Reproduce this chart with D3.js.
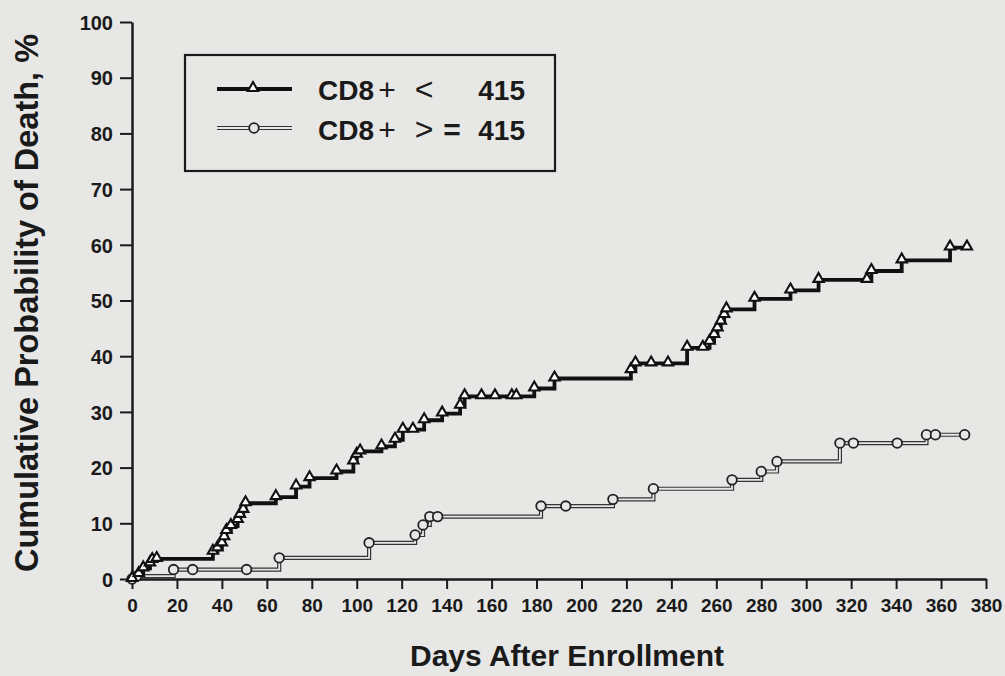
<!DOCTYPE html>
<html>
<head>
<meta charset="utf-8">
<script src="https://cdn.jsdelivr.net/npm/d3@7"></script>
<style>
  body { margin: 0; background: #e7e7e5; }
  svg { display: block; font-family: "Liberation Sans", Arial, sans-serif; }
</style>
</head>
<body>
<div id="chart"></div>
<script>
// CD8+ < 415 group (triangles)
var lowDays = [0, 3, 5, 8, 9, 11, 36, 38, 40, 41, 42, 44, 47, 48, 49.5, 50.5,
  64, 73, 79, 91, 98.5, 100, 101.5, 111, 117, 120.5, 125, 130, 138, 146, 148,
  155.5, 161.5, 169, 171, 179, 188, 222, 224, 231, 238.5, 247, 254, 257, 259,
  260.5, 262, 263.5, 264.5, 277, 293, 305.5, 327, 329, 342.5, 364, 371.5];
var lowPct = [0, 0.9, 1.9, 2.8, 3.4, 3.6, 4.9, 5.5, 6.4, 7.5, 8.6, 9.5, 10.6, 11.5, 12.4, 13.6,
  14.7, 16.6, 18.1, 19.3, 21.1, 22.3, 22.9, 23.8, 25.0, 26.8, 26.8, 28.5, 29.7, 31.1, 32.8,
  32.8, 32.8, 32.8, 32.8, 34.2, 36.0, 37.5, 38.7, 38.7, 38.7, 41.5, 41.5, 42.6, 43.8,
  45.0, 46.2, 47.4, 48.4, 50.3, 51.8, 53.7, 53.7, 55.3, 57.2, 59.5, 59.5];

// CD8+ >= 415 group (circles)
var highDays = [0, 2, 18.5, 27, 51, 65.5, 105.5, 126, 129.5, 132.5, 136, 182, 193,
  214, 232, 267, 280, 287, 315, 321, 340.5, 353.5, 357.5, 370.5];
var highPct = [0, 0.5, 1.7, 1.7, 1.7, 3.8, 6.5, 7.9, 9.7, 11.2, 11.2, 13.1, 13.1,
  14.3, 16.2, 17.8, 19.3, 21.1, 24.4, 24.4, 24.4, 25.9, 25.9, 25.9];

var xTicks = d3.range(0, 381, 20);
var yTicks = d3.range(0, 101, 10);

var width = 1005, height = 676;
var bg = '#e7e7e5';

var svg = d3.select('#chart').append('svg')
    .attr('width', width)
    .attr('height', height);

svg.append('rect').attr('width', width).attr('height', height).attr('fill', bg);

var x = d3.scaleLinear().domain([0, 380]).range([132, 986]);
var y = d3.scaleLinear().domain([0, 100]).range([579, 22]);

var low = lowDays.map(function(d, i) { return [d, lowPct[i]]; });
var high = highDays.map(function(d, i) { return [d, highPct[i]]; });

var line = d3.line()
    .x(function(d) { return x(d[0]); })
    .y(function(d) { return y(d[1]); })
    .curve(d3.curveStepAfter);

// axes
var yAxis = svg.append('g')
    .attr('transform', 'translate(' + x(0) + ',0)')
    .call(d3.axisLeft(y).tickValues(yTicks).tickSize(12).tickPadding(7).tickSizeOuter(0));
var xAxis = svg.append('g')
    .attr('transform', 'translate(0,' + y(0) + ')')
    .call(d3.axisBottom(x).tickValues(xTicks).tickSize(10).tickPadding(10).tickSizeOuter(0));

[xAxis, yAxis].forEach(function(g) {
  g.select('.domain').attr('stroke', '#1a1a1a').attr('stroke-width', 2.5);
  g.selectAll('.tick line').attr('stroke', '#1a1a1a').attr('stroke-width', 2);
  g.selectAll('.tick text')
      .attr('fill', '#1a1a1a')
      .style('font-weight', 'bold')
      .style('font-family', '"Liberation Sans", Arial, sans-serif');
});
yAxis.selectAll('.tick text').style('font-size', '20px').attr('dy', '0.36em');
xAxis.selectAll('.tick text').style('font-size', '19px');

// circle group: double line
svg.append('path').datum(high)
    .attr('d', line)
    .attr('fill', 'none')
    .attr('stroke', '#333')
    .attr('stroke-width', 4.2);
svg.append('path').datum(high)
    .attr('d', line)
    .attr('fill', 'none')
    .attr('stroke', bg)
    .attr('stroke-width', 1.8);

// triangle group: heavy line
svg.append('path').datum(low)
    .attr('d', line)
    .attr('fill', 'none')
    .attr('stroke', '#111')
    .attr('stroke-width', 3.8);

var tri = d3.symbol().type(d3.symbolTriangle).size(46);

svg.selectAll('.pt-high')
    .data(high)
  .enter().append('circle')
    .attr('class', 'pt-high')
    .attr('cx', function(d) { return x(d[0]); })
    .attr('cy', function(d) { return y(d[1]); })
    .attr('r', 4.8)
    .attr('fill', bg)
    .attr('stroke', '#222')
    .attr('stroke-width', 1.8);

svg.selectAll('.pt-low')
    .data(low)
  .enter().append('path')
    .attr('class', 'pt-low')
    .attr('d', tri)
    .attr('transform', function(d) { return 'translate(' + x(d[0]) + ',' + (y(d[1]) - 1) + ')'; })
    .attr('fill', '#fff')
    .attr('stroke', '#111')
    .attr('stroke-width', 2.1);

// legend
var lg = svg.append('g');
lg.append('rect')
    .attr('x', 185).attr('y', 55)
    .attr('width', 370).attr('height', 116)
    .attr('fill', 'none')
    .attr('stroke', '#1a1a1a')
    .attr('stroke-width', 2.2);

lg.append('line').attr('x1', 217).attr('x2', 292).attr('y1', 89).attr('y2', 89)
    .attr('stroke', '#111').attr('stroke-width', 3.8);
lg.append('path').attr('d', tri).attr('transform', 'translate(253,88)')
    .attr('fill', '#fff').attr('stroke', '#111').attr('stroke-width', 2.1);

lg.append('line').attr('x1', 217).attr('x2', 292).attr('y1', 128).attr('y2', 128)
    .attr('stroke', '#333').attr('stroke-width', 4.2);
lg.append('line').attr('x1', 217).attr('x2', 292).attr('y1', 128).attr('y2', 128)
    .attr('stroke', bg).attr('stroke-width', 1.8);
lg.append('circle').attr('cx', 254).attr('cy', 128).attr('r', 4.8)
    .attr('fill', bg).attr('stroke', '#222').attr('stroke-width', 1.8);

var legendRows = [
  {y: 100, sign: '<', eq: ''},
  {y: 140, sign: '>', eq: '='}
];
legendRows.forEach(function(r) {
  var t = function(xp, s, weight, anchor, size) {
    lg.append('text')
        .attr('x', xp).attr('y', r.y)
        .attr('text-anchor', anchor || 'start')
        .style('font-size', (size || 28) + 'px')
        .style('font-weight', weight)
        .attr('fill', '#1a1a1a')
        .text(s);
  };
  t(318, 'CD8', 'bold');
  t(387, '+', 'normal', 'middle', 30);
  t(424, r.sign, 'normal', 'middle', 32);
  if (r.eq) t(452, r.eq, 'bold', 'middle', 30);
  t(525, '415', 'bold', 'end');
});

// axis titles
svg.append('text')
    .attr('transform', 'translate(38,303) rotate(-90)')
    .attr('text-anchor', 'middle')
    .style('font-size', '32.5px')
    .style('font-weight', 'bold')
    .attr('fill', '#1a1a1a')
    .text('Cumulative Probability of Death, %');

svg.append('text')
    .attr('x', 567).attr('y', 666)
    .attr('text-anchor', 'middle')
    .style('font-size', '30px')
    .style('font-weight', 'bold')
    .attr('fill', '#1a1a1a')
    .text('Days After Enrollment');
</script>
</body>
</html>
